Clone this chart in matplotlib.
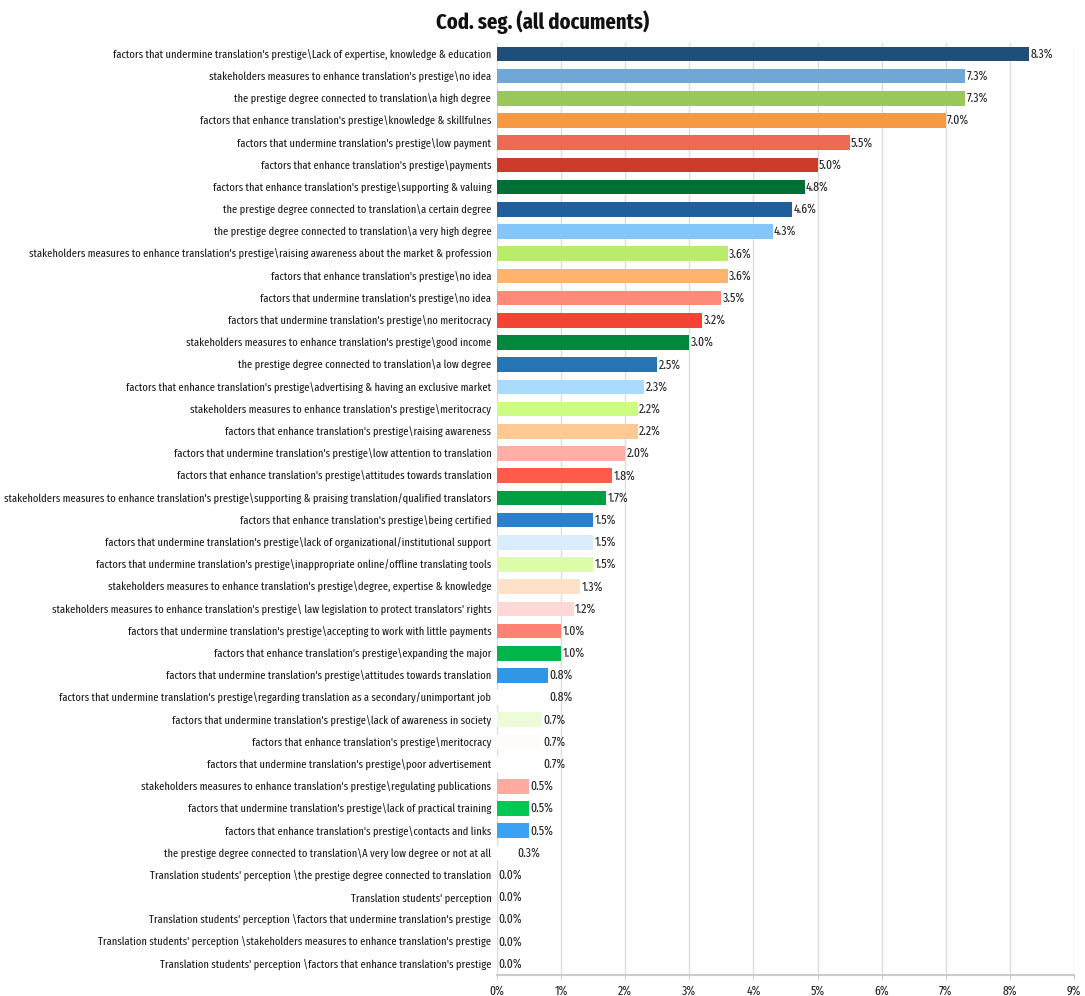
import matplotlib
matplotlib.use("Agg")
import matplotlib.pyplot as plt

# the reference uses a tall, very narrow face
plt.rcParams["font.family"] = ["Fira Sans Extra Condensed", "Roboto Condensed", "DejaVu Sans"]

categories = [
    "factors that undermine translation's prestige\\Lack of expertise, knowledge & education",
    "stakeholders measures to enhance translation's prestige\\no idea",
    "the prestige degree connected to translation\\a high degree",
    "factors that enhance translation's prestige\\knowledge & skillfulnes",
    "factors that undermine translation's prestige\\low payment",
    "factors that enhance translation's prestige\\payments",
    "factors that enhance translation's prestige\\supporting & valuing",
    "the prestige degree connected to translation\\a certain degree",
    "the prestige degree connected to translation\\a very high degree",
    "stakeholders measures to enhance translation's prestige\\raising awareness about the market & profession",
    "factors that enhance translation's prestige\\no idea",
    "factors that undermine translation's prestige\\no idea",
    "factors that undermine translation's prestige\\no meritocracy",
    "stakeholders measures to enhance translation's prestige\\good income",
    "the prestige degree connected to translation\\a low degree",
    "factors that enhance translation's prestige\\advertising & having an exclusive market",
    "stakeholders measures to enhance translation's prestige\\meritocracy",
    "factors that enhance translation's prestige\\raising awareness",
    "factors that undermine translation's prestige\\low attention to translation",
    "factors that enhance translation's prestige\\attitudes towards translation",
    "stakeholders measures to enhance translation's prestige\\supporting & praising translation/qualified translators",
    "factors that enhance translation's prestige\\being certified",
    "factors that undermine translation's prestige\\lack of organizational/institutional support",
    "factors that undermine translation's prestige\\inappropriate online/offline translating tools",
    "stakeholders measures to enhance translation's prestige\\degree, expertise & knowledge",
    "stakeholders measures to enhance translation's prestige\\ law legislation to protect translators' rights",
    "factors that undermine translation's prestige\\accepting to work with little payments",
    "factors that enhance translation's prestige\\expanding the major",
    "factors that undermine translation's prestige\\attitudes towards translation",
    "factors that undermine translation's prestige\\regarding translation as a secondary/unimportant job",
    "factors that undermine translation's prestige\\lack of awareness in society",
    "factors that enhance translation's prestige\\meritocracy",
    "factors that undermine translation's prestige\\poor advertisement",
    "stakeholders measures to enhance translation's prestige\\regulating publications",
    "factors that undermine translation's prestige\\lack of practical training",
    "factors that enhance translation's prestige\\contacts and links",
    "the prestige degree connected to translation\\A very low degree or not at all",
    "Translation students' perception \\the prestige degree connected to translation",
    "Translation students' perception",
    "Translation students' perception \\factors that undermine translation's prestige",
    "Translation students' perception \\stakeholders measures to enhance translation's prestige",
    "Translation students' perception \\factors that enhance translation's prestige",
]

values = [
    8.3, 7.3, 7.3, 7.0, 5.5, 5.0, 4.8, 4.6, 4.3, 3.6, 3.6, 3.5, 3.2, 3.0,
    2.5, 2.3, 2.2, 2.2, 2.0, 1.8, 1.7, 1.5, 1.5, 1.5, 1.3, 1.2, 1.0, 1.0,
    0.8, 0.8, 0.7, 0.7, 0.7, 0.5, 0.5, 0.5, 0.3, 0.0, 0.0, 0.0, 0.0, 0.0,
]

colors = [
    "#1f4e79", "#6fa8d6", "#9bc85a", "#f59a42", "#ef6a55", "#cc3a2a",
    "#006f35", "#1f5f9c", "#84c6f7", "#b8ec6a", "#ffb36d", "#ff8a78",
    "#f44433", "#00883d", "#2574b3", "#a9dbfc", "#cdfc82", "#fec995",
    "#ffb0a6", "#fe5b4a", "#009f41", "#2b7fcb", "#d8ecfc", "#dcfca8",
    "#fde1c8", "#fed8d5", "#ff8173", "#00b54a", "#3296e6", "#ffffff",
    "#ecfcd8", "#fdfcf8", "#ffffff", "#ffaaa0", "#00c853", "#3aa3f5",
    "#ffffff", "#ffffff", "#ffffff", "#ffffff", "#ffffff", "#ffffff",
]

xticks = list(range(0, 10))

fig = plt.figure(figsize=(10.85, 9.96), dpi=100)
ax = fig.add_axes([0.458, 0.021, 0.532, 0.936])

ypos = list(range(len(categories)))
ax.barh(ypos, values, height=0.66, color=colors, zorder=3)
value_texts = []
for y, v in zip(ypos, values):
    t = ax.text(v + 0.02, y, f"{v:.1f}%", va="center", ha="left", fontsize=9,
                color="#222222", zorder=4)
    value_texts.append(t)

ax.set_yticks(ypos)
ax.set_yticklabels(categories, fontsize=9, color="#1a1a1a")
ax.set_ylim(len(categories) - 0.5, -0.5)
ax.set_xlim(0, 9)
ax.set_xticks(xticks)
ax.set_xticklabels([f"{t}%" for t in xticks], fontsize=9, color="#222222")
ax.tick_params(axis="y", length=0, pad=4)
ax.tick_params(axis="x", length=3, color="#cccccc", pad=4)

ax.grid(axis="x", color="#dddddd", linewidth=1, zorder=0)
for side in ["top", "right"]:
    ax.spines[side].set_visible(False)
ax.spines["left"].set_color("#dddddd")
ax.spines["bottom"].set_color("#cccccc")
ax.spines["bottom"].set_linewidth(1.5)

# size text so the longest label spans the same width as in the reference
renderer = fig.canvas.get_renderer()
widest = max(lab.get_window_extent(renderer).width for lab in ax.get_yticklabels())
size = 9 * 482 / widest
for lab in ax.get_yticklabels():
    lab.set_fontsize(size)
for lab in ax.get_xticklabels() + value_texts:
    lab.set_fontsize(size * 1.12)

fig.text(0.5, 0.978, "Cod. seg. (all documents)", ha="center", va="center",
         fontsize=16, fontweight="bold", color="#111111")

fig.savefig("out.png", dpi=100)
